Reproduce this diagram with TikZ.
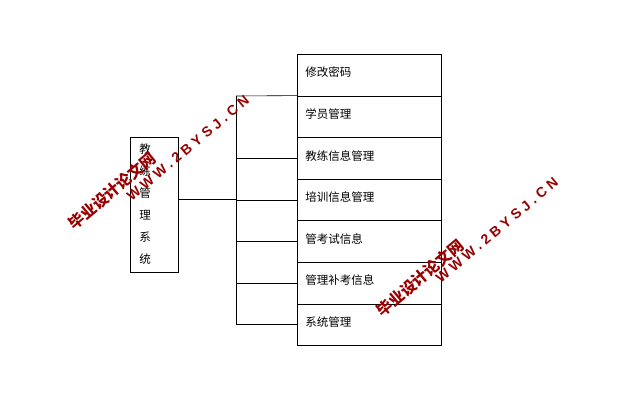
\documentclass[tikz,border=0pt]{standalone}
\usepackage{fontspec}
\setmainfont{Noto Sans CJK SC}
\newfontfamily\wmfont[LetterSpace=28]{Liberation Sans}
\newfontfamily\wmcjk{Noto Sans CJK SC}
\begin{document}
\begin{tikzpicture}[x=1pt,y=-1pt,
  box/.style={draw,line width=0.6pt,minimum width=144pt,minimum height=41.6pt,anchor=north west,text width=128pt,align=left,font=\fontsize{11.5}{13}\selectfont,inner ysep=0pt,text depth=6pt},
  ln/.style={line width=0.6pt},
  wm/.style={text=red!60!black,rotate=40,font=\bfseries\fontsize{14}{16}\selectfont}]
\useasboundingbox (0,0) rectangle (631,407);
\node[draw,line width=0.6pt,minimum width=48pt,minimum height=135pt,anchor=north west] (L) at (130,137) {};
\foreach \t [count=\i] in {教,练,管,理,系,统}
  \node[font=\fontsize{11.5}{13}\selectfont] at (145,127+22*\i) {\t};
\node[box] (b1) at (297,54) {修改密码};
\node[box] (b2) at (297,95.6) {学员管理};
\node[box] (b3) at (297,137.2) {教练信息管理};
\node[box] (b4) at (297,178.8) {培训信息管理};
\node[box] (b5) at (297,220.4) {管考试信息};
\node[box] (b6) at (297,262) {管理补考信息};
\node[box] (b7) at (297,303.6) {系统管理};
\coordinate (bt) at (236,96);
\coordinate (bb) at (236,324);
\draw[ln] (bt) -- (bb);
\draw[ln] (L.east |- 0,199) -- (236,199);
\draw[ln] (bt) -- (b2.north west);
\foreach \b in {b3,b4,b5,b6,b7} \draw[ln] (236,0 |- \b.west) -- (\b.west);
\node[wm,font=\bfseries\fontsize{15.5}{17}\selectfont] at (112,191) {\wmcjk 毕业设计论文网};
\node[wm] at (188,148) {\wmfont WWW.2BYSJ.CN};
\node[wm,font=\bfseries\fontsize{15.5}{17}\selectfont] at (420,278) {\wmcjk 毕业设计论文网};
\node[wm] at (497,230) {\wmfont WWW.2BYSJ.CN};
\end{tikzpicture}
\end{document}
